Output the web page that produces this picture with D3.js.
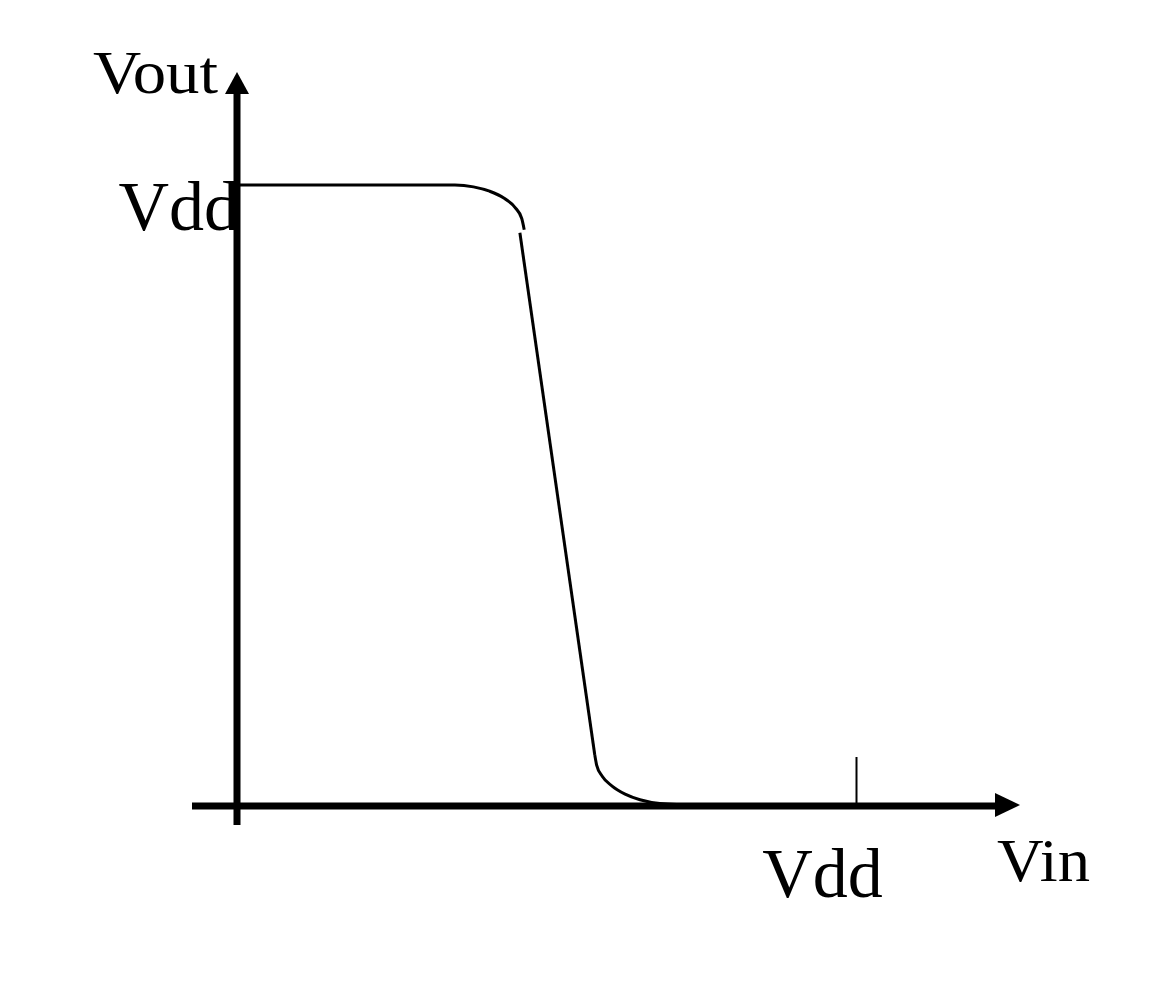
<!DOCTYPE html>
<html><head><meta charset="utf-8">
<script src="https://cdn.jsdelivr.net/npm/d3@7"></script>
<style>html,body{margin:0;padding:0;background:#fff;}</style>
</head><body>
<svg id="chart" width="1166" height="999"></svg>
<script>
// Data (units of Vdd)
const upperVin  = [0, 0.352, 0.382, 0.408, 0.431, 0.449, 0.460, 0.464];
const upperVout = [1, 1, 0.997, 0.990, 0.979, 0.964, 0.946, 0.928];
const slopeVin  = [0.457, 0.578];
const slopeVout = [0.923, 0.082];
const lowerVin  = [0.578, 0.581, 0.590, 0.606, 0.627, 0.651, 0.683, 0.748];
const lowerVout = [0.082, 0.066, 0.048, 0.032, 0.019, 0.010, 0.004, 0.001];
const xTicks = [1], xTickLabels = ["Vdd"];
const yTicks = [1], yTickLabels = ["Vdd"];
const xTitle = "Vin", yTitle = "Vout";

const svg = d3.select("#chart");
const x = d3.scaleLinear().domain([0, 1]).range([237, 856]);
const y = d3.scaleLinear().domain([0, 1]).range([806, 185]);
const FONT = "'Liberation Serif','Times New Roman',serif";

const zip = (a, b) => a.map((v, i) => [v, b[i]]);
const curved = d3.line().x(d => x(d[0])).y(d => y(d[1])).curve(d3.curveMonotoneX);
const straight = d3.line().x(d => x(d[0])).y(d => y(d[1]));

// curve
svg.append("path").attr("d", curved(zip(upperVin, upperVout)))
  .attr("fill", "none").attr("stroke", "#000").attr("stroke-width", 3);
svg.append("path").attr("d", straight(zip(slopeVin, slopeVout)))
  .attr("fill", "none").attr("stroke", "#000").attr("stroke-width", 3);
svg.append("path").attr("d", curved(zip(lowerVin, lowerVout)))
  .attr("fill", "none").attr("stroke", "#000").attr("stroke-width", 3);

// y axis tick label (drawn before the axis line so the line overlaps it)
const yAx = svg.append("g").attr("transform", `translate(${x(0)},0)`)
  .call(d3.axisLeft(y).tickValues(yTicks).tickFormat((d, i) => yTickLabels[i]).tickSize(0));
yAx.select(".domain").remove();
yAx.selectAll("text").attr("x", 2).attr("y", 44).attr("dy", 0)
  .attr("text-anchor", "end").style("font-family", FONT).style("font-size", "70px").attr("fill", "#000");

// x axis tick + label
const xAx = svg.append("g").attr("transform", `translate(0,${y(0)})`)
  .call(d3.axisBottom(x).tickValues(xTicks).tickFormat((d, i) => xTickLabels[i]).tickSizeInner(-49).tickSizeOuter(0));
xAx.select(".domain").remove();
xAx.selectAll(".tick line").attr("stroke", "#000").attr("stroke-width", 2);
xAx.selectAll("text").attr("x", -34).attr("y", 91).attr("dy", 0)
  .attr("text-anchor", "middle").style("font-family", FONT).style("font-size", "70px").attr("fill", "#000");

// axis lines with arrows
const x0 = x(0), y0 = y(0);
svg.append("line").attr("x1", 192).attr("x2", 997).attr("y1", y0).attr("y2", y0)
  .attr("stroke", "#000").attr("stroke-width", 7);
svg.append("path").attr("d", `M1020,${y0 - 1} L995,${y0 - 13} L995,${y0 + 11} Z`).attr("fill", "#000");
svg.append("line").attr("x1", x0).attr("x2", x0).attr("y1", 825).attr("y2", 91)
  .attr("stroke", "#000").attr("stroke-width", 7);
svg.append("path").attr("d", `M${x0},72 L${x0 - 12},94 L${x0 + 12},94 Z`).attr("fill", "#000");

// titles
svg.append("text").attr("x", 93).attr("y", 93).text(yTitle)
  .attr("textLength", 125).attr("lengthAdjust", "spacingAndGlyphs")
  .style("font-family", FONT).style("font-size", "62px").attr("fill", "#000");
svg.append("text").attr("x", 997).attr("y", 881).text(xTitle)
  .attr("textLength", 93).attr("lengthAdjust", "spacingAndGlyphs")
  .style("font-family", FONT).style("font-size", "62px").attr("fill", "#000");
</script>
</body></html>
